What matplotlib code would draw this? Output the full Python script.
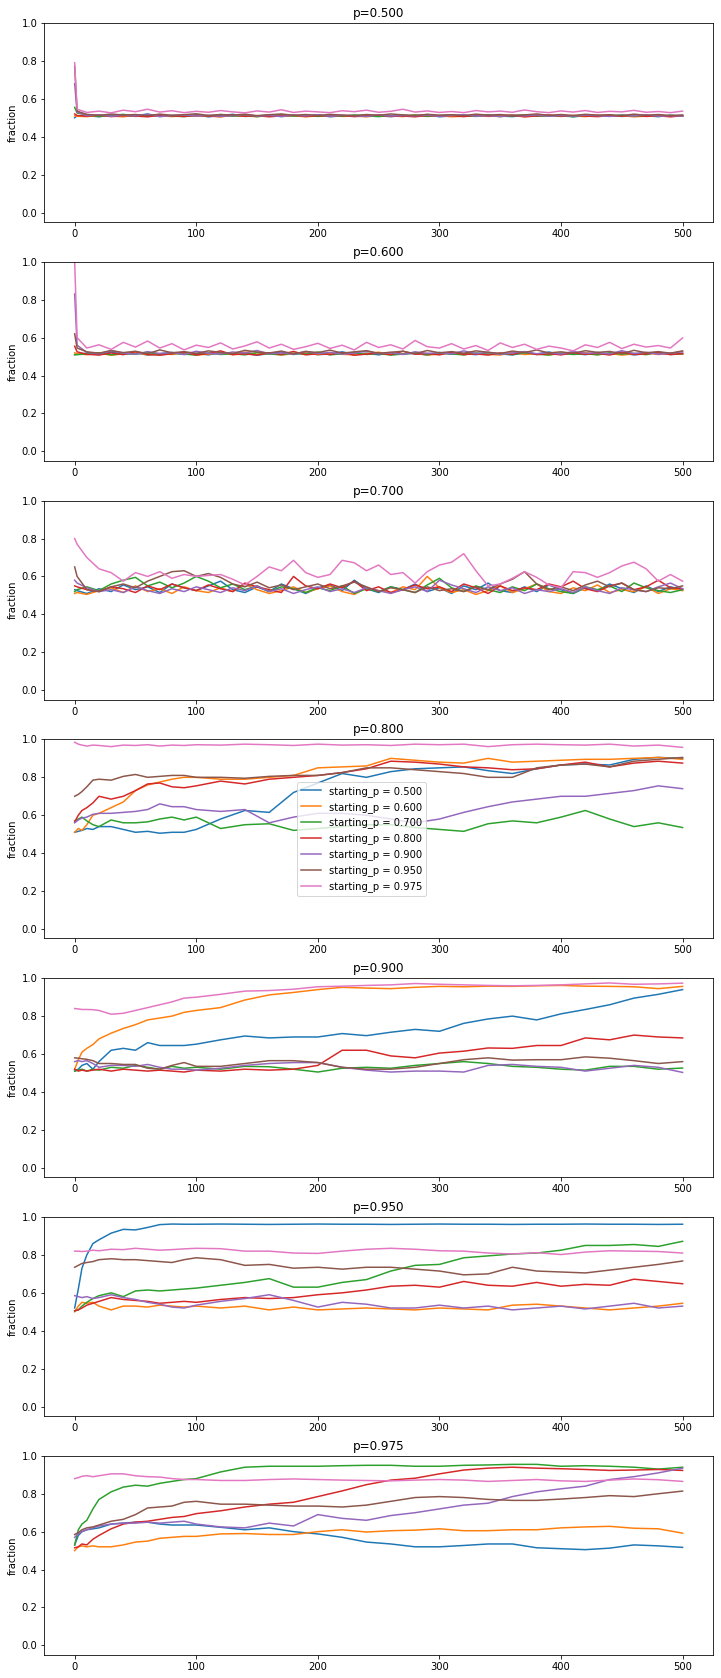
import numpy as np
import matplotlib
matplotlib.use('Agg')
import matplotlib.pyplot as plt

# starting_p of each run (one line per run in every panel)
starting_ps = [0.500, 0.600, 0.700, 0.800, 0.900, 0.950, 0.975]
panel_ps = [0.500, 0.600, 0.700, 0.800, 0.900, 0.950, 0.975]

# step grids the values were read at
steps_noisy = [0, 2] + list(range(10, 501, 10))
steps_trend = [0, 3, 6, 10, 15, 20, 30, 40, 50, 60, 70, 80, 90, 100,
               120, 140, 160, 180, 200, 220, 240, 260, 280, 300, 320, 340,
               360, 380, 400, 420, 440, 460, 480, 500]

# p=0.500
p500_blue = [0.500, 0.510,
    0.512, 0.505, 0.515, 0.508, 0.510, 0.520, 0.506, 0.512, 0.509, 0.515,
    0.505, 0.511, 0.518, 0.507, 0.510, 0.514, 0.506, 0.512, 0.509, 0.516,
    0.505, 0.511, 0.508, 0.514, 0.510, 0.506, 0.513, 0.509, 0.517, 0.505,
    0.510, 0.512, 0.507, 0.515, 0.509, 0.506, 0.513, 0.510, 0.508, 0.516,
    0.505, 0.511, 0.509, 0.514, 0.507, 0.512, 0.510, 0.506, 0.513, 0.509]
p500_orange = [0.510, 0.508,
    0.506, 0.512, 0.509, 0.505, 0.514, 0.508, 0.511, 0.506, 0.513, 0.508,
    0.510, 0.505, 0.512, 0.509, 0.506, 0.515, 0.508, 0.511, 0.505, 0.510,
    0.513, 0.507, 0.509, 0.505, 0.512, 0.510, 0.506, 0.514, 0.508, 0.511,
    0.505, 0.509, 0.513, 0.507, 0.510, 0.515, 0.506, 0.509, 0.512, 0.507,
    0.510, 0.506, 0.513, 0.508, 0.511, 0.505, 0.509, 0.514, 0.507, 0.510]
p500_green = [0.555, 0.525,
    0.515, 0.508, 0.512, 0.518, 0.507, 0.511, 0.515, 0.509, 0.506, 0.513,
    0.510, 0.517, 0.508, 0.512, 0.506, 0.511, 0.516, 0.509, 0.513, 0.507,
    0.511, 0.508, 0.515, 0.510, 0.506, 0.512, 0.509, 0.514, 0.507, 0.511,
    0.516, 0.508, 0.510, 0.513, 0.506, 0.511, 0.515, 0.508, 0.512, 0.509,
    0.506, 0.513, 0.510, 0.508, 0.515, 0.509, 0.511, 0.507, 0.512, 0.508]
p500_red = [0.520, 0.512,
    0.508, 0.514, 0.506, 0.511, 0.509, 0.505, 0.513, 0.510, 0.507, 0.512,
    0.509, 0.506, 0.514, 0.508, 0.511, 0.505, 0.510, 0.513, 0.507, 0.511,
    0.508, 0.512, 0.506, 0.510, 0.514, 0.507, 0.509, 0.505, 0.512, 0.508,
    0.511, 0.506, 0.513, 0.509, 0.507, 0.512, 0.505, 0.510, 0.514, 0.508,
    0.512, 0.509, 0.506, 0.511, 0.508, 0.513, 0.507, 0.510, 0.505, 0.511]
p500_purple = [0.680, 0.530,
    0.511, 0.516, 0.508, 0.513, 0.510, 0.518, 0.507, 0.512, 0.515, 0.509,
    0.513, 0.508, 0.511, 0.517, 0.509, 0.512, 0.507, 0.514, 0.510, 0.516,
    0.508, 0.513, 0.511, 0.507, 0.515, 0.509, 0.512, 0.510, 0.514, 0.508,
    0.512, 0.516, 0.509, 0.511, 0.507, 0.513, 0.510, 0.515, 0.508, 0.512,
    0.509, 0.514, 0.511, 0.507, 0.513, 0.510, 0.516, 0.508, 0.511, 0.509]
p500_brown = [0.770, 0.535,
    0.518, 0.512, 0.520, 0.514, 0.517, 0.511, 0.519, 0.513, 0.516, 0.521,
    0.512, 0.517, 0.514, 0.519, 0.511, 0.516, 0.520, 0.513, 0.517, 0.512,
    0.518, 0.514, 0.511, 0.517, 0.513, 0.520, 0.515, 0.512, 0.518, 0.514,
    0.516, 0.511, 0.519, 0.514, 0.517, 0.512, 0.515, 0.520, 0.513, 0.517,
    0.512, 0.518, 0.514, 0.516, 0.511, 0.519, 0.513, 0.517, 0.512, 0.515]
p500_pink = [0.790, 0.545,
    0.528, 0.535, 0.526, 0.540, 0.532, 0.545, 0.530, 0.537, 0.527, 0.534,
    0.529, 0.538, 0.531, 0.526, 0.536, 0.530, 0.542, 0.528, 0.535, 0.531,
    0.527, 0.537, 0.532, 0.540, 0.529, 0.534, 0.545, 0.530, 0.536, 0.528,
    0.533, 0.527, 0.538, 0.531, 0.535, 0.529, 0.541, 0.532, 0.527, 0.536,
    0.530, 0.538, 0.528, 0.534, 0.531, 0.539, 0.529, 0.533, 0.527, 0.535]

# p=0.600
p600_blue = [0.510, 0.512,
    0.518, 0.510, 0.524, 0.512, 0.520, 0.508, 0.515, 0.522, 0.511, 0.517,
    0.509, 0.521, 0.513, 0.518, 0.507, 0.516, 0.523, 0.511, 0.519, 0.510,
    0.514, 0.525, 0.512, 0.518, 0.509, 0.520, 0.513, 0.517, 0.508, 0.522,
    0.512, 0.516, 0.510, 0.521, 0.514, 0.509, 0.519, 0.513, 0.524, 0.511,
    0.517, 0.510, 0.522, 0.513, 0.518, 0.509, 0.515, 0.520, 0.512, 0.516]
p600_orange = [0.520, 0.515,
    0.510, 0.518, 0.507, 0.514, 0.522, 0.509, 0.516, 0.511, 0.520, 0.508,
    0.513, 0.519, 0.510, 0.524, 0.512, 0.517, 0.508, 0.515, 0.521, 0.510,
    0.518, 0.512, 0.509, 0.516, 0.523, 0.511, 0.514, 0.519, 0.508, 0.513,
    0.520, 0.510, 0.517, 0.512, 0.508, 0.522, 0.511, 0.515, 0.509, 0.518,
    0.513, 0.521, 0.510, 0.516, 0.508, 0.514, 0.519, 0.511, 0.517, 0.512]
p600_green = [0.510, 0.510,
    0.514, 0.520, 0.509, 0.516, 0.512, 0.523, 0.510, 0.517, 0.513, 0.508,
    0.519, 0.511, 0.515, 0.509, 0.521, 0.513, 0.510, 0.518, 0.512, 0.524,
    0.509, 0.515, 0.520, 0.511, 0.516, 0.508, 0.513, 0.522, 0.510, 0.517,
    0.514, 0.509, 0.519, 0.512, 0.516, 0.510, 0.521, 0.513, 0.508, 0.518,
    0.511, 0.515, 0.509, 0.520, 0.513, 0.517, 0.510, 0.523, 0.512, 0.515]
p600_red = [0.555, 0.525,
    0.512, 0.508, 0.519, 0.510, 0.526, 0.511, 0.507, 0.515, 0.522, 0.509,
    0.516, 0.530, 0.510, 0.514, 0.508, 0.520, 0.512, 0.527, 0.509, 0.515,
    0.511, 0.521, 0.507, 0.513, 0.518, 0.510, 0.528, 0.512, 0.516, 0.509,
    0.523, 0.511, 0.514, 0.508, 0.519, 0.512, 0.526, 0.510, 0.515, 0.509,
    0.520, 0.512, 0.517, 0.508, 0.524, 0.511, 0.514, 0.521, 0.510, 0.516]
p600_purple = [0.830, 0.560,
    0.522, 0.515, 0.530, 0.518, 0.512, 0.526, 0.516, 0.521, 0.511, 0.528,
    0.517, 0.513, 0.524, 0.519, 0.532, 0.514, 0.520, 0.512, 0.527, 0.516,
    0.522, 0.513, 0.518, 0.529, 0.515, 0.521, 0.511, 0.525, 0.517, 0.520,
    0.514, 0.530, 0.516, 0.522, 0.512, 0.519, 0.526, 0.515, 0.521, 0.513,
    0.527, 0.517, 0.520, 0.514, 0.531, 0.516, 0.523, 0.512, 0.518, 0.525]
p600_brown = [0.620, 0.545,
    0.525, 0.518, 0.532, 0.521, 0.528, 0.515, 0.535, 0.520, 0.526, 0.517,
    0.530, 0.522, 0.516, 0.533, 0.524, 0.519, 0.529, 0.514, 0.527, 0.521,
    0.534, 0.518, 0.525, 0.531, 0.517, 0.523, 0.528, 0.515, 0.532, 0.520,
    0.526, 0.518, 0.530, 0.523, 0.516, 0.529, 0.521, 0.535, 0.519, 0.525,
    0.517, 0.531, 0.522, 0.527, 0.515, 0.533, 0.520, 0.526, 0.518, 0.530]
p600_pink = [1.000, 0.600,
    0.545, 0.562, 0.538, 0.575, 0.550, 0.582, 0.545, 0.568, 0.535, 0.560,
    0.548, 0.572, 0.540, 0.556, 0.578, 0.545, 0.565, 0.538, 0.552, 0.570,
    0.543, 0.560, 0.535, 0.575, 0.548, 0.562, 0.540, 0.585, 0.552, 0.545,
    0.568, 0.540, 0.558, 0.532, 0.572, 0.548, 0.565, 0.538, 0.555, 0.545,
    0.530, 0.562, 0.548, 0.575, 0.542, 0.565, 0.550, 0.558, 0.545, 0.598]

# p=0.700
p700_blue = [0.530, 0.525,
    0.510, 0.535, 0.520, 0.555, 0.530, 0.545, 0.515, 0.560, 0.540, 0.525,
    0.550, 0.575, 0.530, 0.515, 0.545, 0.520, 0.560, 0.535, 0.510, 0.540,
    0.555, 0.525, 0.580, 0.535, 0.515, 0.545, 0.530, 0.560, 0.520, 0.540,
    0.510, 0.550, 0.530, 0.565, 0.525, 0.515, 0.545, 0.520, 0.555, 0.530,
    0.510, 0.540, 0.525, 0.560, 0.535, 0.515, 0.550, 0.520, 0.545, 0.530]
p700_orange = [0.510, 0.515,
    0.505, 0.525, 0.540, 0.515, 0.550, 0.520, 0.535, 0.510, 0.545, 0.525,
    0.515, 0.540, 0.520, 0.560, 0.530, 0.510, 0.525, 0.545, 0.515, 0.535,
    0.550, 0.520, 0.505, 0.540, 0.525, 0.515, 0.545, 0.530, 0.600, 0.540,
    0.515, 0.530, 0.505, 0.525, 0.550, 0.515, 0.535, 0.560, 0.520, 0.510,
    0.540, 0.525, 0.555, 0.515, 0.530, 0.520, 0.545, 0.510, 0.535, 0.525]
p700_green = [0.520, 0.530,
    0.545, 0.525, 0.560, 0.580, 0.595, 0.550, 0.570, 0.540, 0.565, 0.600,
    0.575, 0.540, 0.560, 0.530, 0.550, 0.520, 0.545, 0.535, 0.515, 0.540,
    0.525, 0.550, 0.510, 0.535, 0.520, 0.545, 0.530, 0.515, 0.555, 0.590,
    0.540, 0.520, 0.550, 0.530, 0.515, 0.545, 0.525, 0.560, 0.535, 0.520,
    0.510, 0.545, 0.530, 0.550, 0.520, 0.565, 0.540, 0.525, 0.515, 0.530]
p700_red = [0.550, 0.545,
    0.530, 0.520, 0.545, 0.535, 0.515, 0.550, 0.530, 0.560, 0.540, 0.525,
    0.555, 0.535, 0.520, 0.565, 0.545, 0.530, 0.515, 0.600, 0.550, 0.535,
    0.560, 0.540, 0.575, 0.525, 0.545, 0.515, 0.530, 0.555, 0.535, 0.545,
    0.520, 0.560, 0.540, 0.510, 0.550, 0.525, 0.540, 0.530, 0.560, 0.545,
    0.575, 0.535, 0.520, 0.550, 0.565, 0.530, 0.545, 0.580, 0.540, 0.535]
p700_purple = [0.580, 0.565,
    0.540, 0.520, 0.530, 0.515, 0.545, 0.525, 0.510, 0.535, 0.520, 0.545,
    0.530, 0.515, 0.540, 0.525, 0.550, 0.520, 0.535, 0.510, 0.530, 0.545,
    0.520, 0.535, 0.515, 0.540, 0.525, 0.510, 0.530, 0.545, 0.520, 0.580,
    0.555, 0.535, 0.515, 0.545, 0.525, 0.540, 0.510, 0.530, 0.520, 0.535,
    0.515, 0.545, 0.525, 0.510, 0.540, 0.530, 0.520, 0.545, 0.565, 0.535]
p700_brown = [0.650, 0.600,
    0.530, 0.520, 0.545, 0.560, 0.540, 0.575, 0.600, 0.625, 0.630, 0.600,
    0.615, 0.595, 0.560, 0.545, 0.570, 0.540, 0.555, 0.530, 0.545, 0.560,
    0.535, 0.550, 0.570, 0.545, 0.520, 0.540, 0.530, 0.515, 0.545, 0.525,
    0.535, 0.520, 0.545, 0.530, 0.560, 0.585, 0.625, 0.560, 0.530, 0.545,
    0.525, 0.555, 0.575, 0.545, 0.565, 0.530, 0.520, 0.540, 0.535, 0.550]
p700_pink = [0.800, 0.770,
    0.700, 0.640, 0.620, 0.575, 0.620, 0.600, 0.625, 0.590, 0.610, 0.600,
    0.605, 0.610, 0.585, 0.555, 0.600, 0.650, 0.630, 0.685, 0.620, 0.595,
    0.610, 0.685, 0.672, 0.630, 0.660, 0.610, 0.620, 0.565, 0.625, 0.660,
    0.675, 0.720, 0.630, 0.550, 0.560, 0.590, 0.625, 0.595, 0.555, 0.540,
    0.625, 0.620, 0.595, 0.620, 0.655, 0.675, 0.640, 0.575, 0.610, 0.575]

# p=0.800
p800_blue = [0.510, 0.515, 0.520, 0.530, 0.525, 0.540, 0.540, 0.525, 0.510, 0.515,
    0.505, 0.510, 0.510, 0.525, 0.580, 0.625, 0.615, 0.720, 0.770, 0.820,
    0.800, 0.830, 0.845, 0.850, 0.855, 0.835, 0.820, 0.845, 0.865, 0.870,
    0.865, 0.895, 0.905, 0.900]
p800_orange = [0.510, 0.530, 0.520, 0.550, 0.600, 0.610, 0.640, 0.670, 0.730, 0.760,
    0.775, 0.790, 0.800, 0.800, 0.790, 0.790, 0.800, 0.810, 0.850, 0.855,
    0.860, 0.900, 0.890, 0.880, 0.875, 0.900, 0.880, 0.885, 0.890, 0.895,
    0.895, 0.900, 0.905, 0.895]
p800_green = [0.570, 0.580, 0.590, 0.570, 0.550, 0.540, 0.575, 0.560, 0.560, 0.565,
    0.580, 0.590, 0.575, 0.590, 0.530, 0.550, 0.555, 0.520, 0.530, 0.540,
    0.550, 0.550, 0.535, 0.525, 0.515, 0.555, 0.570, 0.560, 0.590, 0.625,
    0.580, 0.540, 0.560, 0.535]
p800_red = [0.565, 0.600, 0.625, 0.640, 0.665, 0.700, 0.685, 0.700, 0.730, 0.765,
    0.770, 0.750, 0.745, 0.755, 0.780, 0.765, 0.790, 0.800, 0.810, 0.825,
    0.845, 0.885, 0.880, 0.870, 0.855, 0.850, 0.840, 0.845, 0.865, 0.880,
    0.855, 0.875, 0.885, 0.875]
p800_purple = [0.560, 0.575, 0.585, 0.590, 0.605, 0.610, 0.610, 0.615, 0.620, 0.630,
    0.660, 0.645, 0.645, 0.630, 0.620, 0.630, 0.560, 0.590, 0.610, 0.610,
    0.600, 0.580, 0.560, 0.580, 0.615, 0.645, 0.670, 0.685, 0.700, 0.700,
    0.715, 0.730, 0.755, 0.740]
p800_brown = [0.700, 0.710, 0.725, 0.750, 0.785, 0.790, 0.785, 0.805, 0.815, 0.800,
    0.805, 0.810, 0.810, 0.800, 0.800, 0.795, 0.805, 0.810, 0.810, 0.825,
    0.850, 0.850, 0.840, 0.830, 0.820, 0.800, 0.800, 0.850, 0.865, 0.870,
    0.855, 0.885, 0.895, 0.905]
p800_pink = [0.985, 0.975, 0.970, 0.965, 0.970, 0.968, 0.962, 0.970, 0.968, 0.972,
    0.965, 0.970, 0.968, 0.972, 0.970, 0.975, 0.972, 0.968, 0.975, 0.970,
    0.972, 0.968, 0.975, 0.972, 0.975, 0.962, 0.972, 0.975, 0.972, 0.970,
    0.975, 0.965, 0.970, 0.958]

# p=0.900
p900_blue = [0.510, 0.520, 0.540, 0.550, 0.520, 0.560, 0.620, 0.630, 0.620, 0.660,
    0.645, 0.645, 0.645, 0.652, 0.675, 0.695, 0.685, 0.690, 0.690, 0.708,
    0.697, 0.715, 0.730, 0.720, 0.762, 0.785, 0.800, 0.780, 0.812, 0.835,
    0.860, 0.895, 0.915, 0.940]
p900_orange = [0.520, 0.570, 0.610, 0.630, 0.650, 0.680, 0.710, 0.735, 0.755, 0.780,
    0.790, 0.800, 0.820, 0.830, 0.845, 0.885, 0.912, 0.925, 0.940, 0.952,
    0.948, 0.945, 0.952, 0.957, 0.955, 0.958, 0.957, 0.960, 0.962, 0.958,
    0.957, 0.955, 0.945, 0.957]
p900_green = [0.510, 0.515, 0.520, 0.510, 0.520, 0.515, 0.530, 0.525, 0.540, 0.530,
    0.520, 0.535, 0.525, 0.530, 0.520, 0.535, 0.533, 0.520, 0.505, 0.525,
    0.530, 0.525, 0.540, 0.550, 0.560, 0.550, 0.535, 0.530, 0.520, 0.515,
    0.535, 0.535, 0.520, 0.526]
p900_red = [0.520, 0.510, 0.515, 0.510, 0.515, 0.520, 0.510, 0.520, 0.515, 0.510,
    0.515, 0.510, 0.505, 0.515, 0.510, 0.520, 0.515, 0.520, 0.540, 0.620,
    0.620, 0.590, 0.580, 0.605, 0.615, 0.632, 0.630, 0.645, 0.645, 0.685,
    0.675, 0.700, 0.690, 0.685]
p900_purple = [0.560, 0.565, 0.560, 0.565, 0.550, 0.530, 0.540, 0.540, 0.535, 0.545,
    0.530, 0.520, 0.520, 0.515, 0.525, 0.540, 0.550, 0.555, 0.555, 0.530,
    0.515, 0.505, 0.510, 0.510, 0.505, 0.540, 0.545, 0.535, 0.530, 0.510,
    0.525, 0.540, 0.530, 0.503]
p900_brown = [0.580, 0.578, 0.575, 0.572, 0.565, 0.550, 0.550, 0.545, 0.545, 0.525,
    0.520, 0.540, 0.555, 0.535, 0.535, 0.550, 0.565, 0.565, 0.555, 0.530,
    0.520, 0.520, 0.530, 0.550, 0.570, 0.580, 0.568, 0.570, 0.570, 0.585,
    0.578, 0.565, 0.550, 0.560]
p900_pink = [0.840, 0.838, 0.835, 0.835, 0.834, 0.830, 0.810, 0.815, 0.830, 0.845,
    0.860, 0.875, 0.895, 0.900, 0.915, 0.932, 0.935, 0.942, 0.955, 0.958,
    0.962, 0.965, 0.972, 0.968, 0.965, 0.962, 0.960, 0.962, 0.965, 0.970,
    0.975, 0.968, 0.970, 0.974]

# p=0.950
p950_blue = [0.520, 0.620, 0.730, 0.800, 0.860, 0.880, 0.915, 0.935, 0.932, 0.945,
    0.960, 0.963, 0.962, 0.962, 0.963, 0.962, 0.961, 0.962, 0.963, 0.962,
    0.962, 0.961, 0.962, 0.963, 0.962, 0.962, 0.961, 0.962, 0.962, 0.963,
    0.962, 0.962, 0.961, 0.962]
p950_orange = [0.500, 0.530, 0.550, 0.545, 0.550, 0.530, 0.510, 0.530, 0.530, 0.525,
    0.535, 0.530, 0.525, 0.530, 0.520, 0.530, 0.510, 0.525, 0.510, 0.515,
    0.520, 0.515, 0.510, 0.520, 0.515, 0.510, 0.535, 0.540, 0.530, 0.520,
    0.510, 0.520, 0.530, 0.545]
p950_green = [0.505, 0.510, 0.530, 0.550, 0.570, 0.585, 0.600, 0.580, 0.610, 0.615,
    0.610, 0.615, 0.620, 0.625, 0.640, 0.655, 0.675, 0.630, 0.630, 0.655,
    0.670, 0.715, 0.745, 0.750, 0.785, 0.795, 0.805, 0.810, 0.825, 0.850,
    0.850, 0.855, 0.845, 0.872]
p950_red = [0.505, 0.510, 0.520, 0.535, 0.545, 0.555, 0.575, 0.565, 0.560, 0.555,
    0.545, 0.550, 0.555, 0.550, 0.565, 0.575, 0.570, 0.575, 0.590, 0.600,
    0.615, 0.635, 0.640, 0.630, 0.660, 0.640, 0.635, 0.655, 0.635, 0.645,
    0.640, 0.672, 0.660, 0.648]
p950_purple = [0.585, 0.580, 0.575, 0.580, 0.570, 0.575, 0.590, 0.575, 0.565, 0.550,
    0.540, 0.525, 0.520, 0.535, 0.555, 0.570, 0.590, 0.560, 0.525, 0.550,
    0.540, 0.520, 0.520, 0.535, 0.520, 0.530, 0.510, 0.520, 0.530, 0.515,
    0.530, 0.545, 0.520, 0.530]
p950_brown = [0.735, 0.745, 0.755, 0.760, 0.765, 0.775, 0.780, 0.775, 0.775, 0.770,
    0.765, 0.760, 0.775, 0.785, 0.775, 0.745, 0.750, 0.730, 0.735, 0.725,
    0.735, 0.735, 0.725, 0.715, 0.695, 0.700, 0.735, 0.715, 0.710, 0.705,
    0.720, 0.735, 0.750, 0.768]
p950_pink = [0.820, 0.820, 0.818, 0.820, 0.825, 0.822, 0.830, 0.828, 0.835, 0.830,
    0.825, 0.828, 0.832, 0.835, 0.833, 0.820, 0.820, 0.810, 0.808, 0.820,
    0.830, 0.835, 0.830, 0.822, 0.820, 0.810, 0.805, 0.812, 0.802, 0.815,
    0.822, 0.820, 0.818, 0.810]

# p=0.975
p975_blue = [0.530, 0.580, 0.600, 0.610, 0.615, 0.620, 0.640, 0.645, 0.650, 0.650,
    0.640, 0.635, 0.635, 0.635, 0.623, 0.610, 0.620, 0.600, 0.588, 0.570,
    0.545, 0.535, 0.520, 0.520, 0.527, 0.535, 0.535, 0.515, 0.510, 0.505,
    0.513, 0.530, 0.525, 0.517]
p975_orange = [0.500, 0.520, 0.525, 0.520, 0.525, 0.520, 0.520, 0.530, 0.545, 0.550,
    0.565, 0.570, 0.575, 0.575, 0.588, 0.590, 0.585, 0.585, 0.600, 0.610,
    0.598, 0.605, 0.608, 0.615, 0.605, 0.605, 0.610, 0.610, 0.620, 0.625,
    0.628, 0.618, 0.615, 0.592]
p975_green = [0.530, 0.610, 0.640, 0.660, 0.720, 0.770, 0.810, 0.835, 0.845, 0.840,
    0.855, 0.865, 0.875, 0.880, 0.915, 0.940, 0.945, 0.945, 0.945, 0.948,
    0.950, 0.950, 0.945, 0.945, 0.950, 0.952, 0.955, 0.955, 0.945, 0.948,
    0.945, 0.940, 0.930, 0.940]
p975_red = [0.515, 0.520, 0.535, 0.530, 0.560, 0.580, 0.615, 0.640, 0.650, 0.655,
    0.665, 0.675, 0.680, 0.695, 0.710, 0.730, 0.745, 0.755, 0.785, 0.815,
    0.848, 0.872, 0.882, 0.905, 0.925, 0.935, 0.940, 0.935, 0.932, 0.928,
    0.923, 0.925, 0.928, 0.923]
p975_purple = [0.570, 0.590, 0.600, 0.610, 0.620, 0.630, 0.640, 0.645, 0.645, 0.650,
    0.645, 0.650, 0.655, 0.640, 0.625, 0.620, 0.645, 0.630, 0.690, 0.670,
    0.660, 0.685, 0.700, 0.720, 0.740, 0.750, 0.785, 0.810, 0.826, 0.840,
    0.875, 0.890, 0.910, 0.935]
p975_brown = [0.585, 0.595, 0.610, 0.620, 0.625, 0.635, 0.655, 0.665, 0.690, 0.725,
    0.730, 0.735, 0.755, 0.760, 0.745, 0.745, 0.740, 0.735, 0.735, 0.730,
    0.740, 0.760, 0.780, 0.785, 0.780, 0.770, 0.765, 0.765, 0.772, 0.780,
    0.790, 0.785, 0.800, 0.814]
p975_pink = [0.880, 0.885, 0.892, 0.895, 0.890, 0.895, 0.905, 0.905, 0.895, 0.890,
    0.888, 0.880, 0.875, 0.875, 0.870, 0.870, 0.875, 0.878, 0.875, 0.872,
    0.870, 0.868, 0.872, 0.875, 0.872, 0.865, 0.870, 0.875, 0.868, 0.865,
    0.872, 0.878, 0.874, 0.865]

panels = [
    (steps_noisy, [p500_blue, p500_orange, p500_green, p500_red, p500_purple, p500_brown, p500_pink]),
    (steps_noisy, [p600_blue, p600_orange, p600_green, p600_red, p600_purple, p600_brown, p600_pink]),
    (steps_noisy, [p700_blue, p700_orange, p700_green, p700_red, p700_purple, p700_brown, p700_pink]),
    (steps_trend, [p800_blue, p800_orange, p800_green, p800_red, p800_purple, p800_brown, p800_pink]),
    (steps_trend, [p900_blue, p900_orange, p900_green, p900_red, p900_purple, p900_brown, p900_pink]),
    (steps_trend, [p950_blue, p950_orange, p950_green, p950_red, p950_purple, p950_brown, p950_pink]),
    (steps_trend, [p975_blue, p975_orange, p975_green, p975_red, p975_purple, p975_brown, p975_pink]),
]


def main():
    fig, axes = plt.subplots(len(panel_ps), 1, figsize=(721 / 72, 1678 / 72), dpi=72)
    fig.subplots_adjust(left=0.0614, right=0.9889, top=0.9863, bottom=0.0138, hspace=0.2)

    for i, ax in enumerate(axes):
        steps, runs = panels[i]
        for sp, vals in zip(starting_ps, runs):
            ax.plot(steps, vals, label='starting_p = %.3f' % sp)
        ax.set_title('p=%.3f' % panel_ps[i])
        ax.set_ylabel('fraction')
        ax.set_ylim(-0.05, 1.0)
        ax.set_xlim(-25, 525)
        ax.set_xticks(range(0, 501, 100))
        ax.set_yticks(np.arange(0, 1.01, 0.2))
        # legend only shown on the p=0.800 panel
        if panel_ps[i] == 0.800:
            ax.legend(loc='center', bbox_to_anchor=(0.474, 0.5))

    fig.savefig('out.png', dpi=72)


main()
